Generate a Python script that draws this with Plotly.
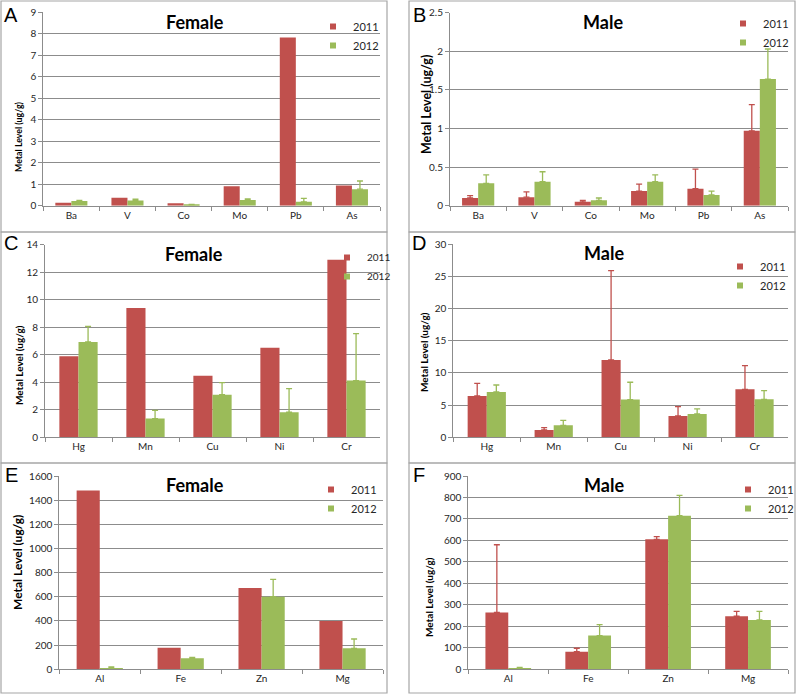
import plotly.graph_objects as go

W, H = 800, 697
RED = "#C0504D"
GREEN = "#9BBB59"
GRID = "#8C8C8C"
TXT = "#262626"
FONT = "Lato"

years = ["2011", "2012"]

# ---- Panel A (Female) ----
cats_A = ["Ba", "V", "Co", "Mo", "Pb", "As"]
A_2011 = [0.14, 0.37, 0.11, 0.90, 7.83, 0.94]
A_2012 = [0.22, 0.24, 0.05, 0.27, 0.18, 0.77]
A_2012_err = [0.03, 0.06, 0.01, 0.05, 0.16, 0.38]

# ---- Panel B (Male) ----
cats_B = ["Ba", "V", "Co", "Mo", "Pb", "As"]
B_2011 = [0.10, 0.11, 0.05, 0.19, 0.22, 0.97]
B_2011_err = [0.03, 0.07, 0.02, 0.09, 0.255, 0.34]
B_2012 = [0.29, 0.31, 0.07, 0.31, 0.14, 1.64]
B_2012_err = [0.11, 0.13, 0.03, 0.09, 0.05, 0.39]

# ---- Panel C (Female) ----
cats_C = ["Hg", "Mn", "Cu", "Ni", "Cr"]
C_2011 = [5.9, 9.4, 4.48, 6.51, 12.9]
C_2012 = [6.93, 1.36, 3.1, 1.82, 4.12]
C_2012_err = [1.13, 0.6, 0.87, 1.72, 3.41]

# ---- Panel D (Male) ----
cats_D = ["Hg", "Mn", "Cu", "Ni", "Cr"]
D_2011 = [6.41, 1.14, 12.0, 3.31, 7.45]
D_2011_err = [1.97, 0.36, 13.87, 1.45, 3.67]
D_2012 = [7.03, 1.86, 5.85, 3.62, 5.9]
D_2012_err = [1.09, 0.78, 2.69, 0.78, 1.34]

# ---- Panel E (Female) ----
cats_E = ["Al", "Fe", "Zn", "Mg"]
E_2011 = [1479, 179, 673, 400]
E_2012 = [8, 91, 601, 174]
E_2012_err = [11, 8, 144, 77]

# ---- Panel F (Male) ----
cats_F = ["Al", "Fe", "Zn", "Mg"]
F_2011 = [265, 82, 605, 247]
F_2011_err = [315, 16, 13, 23]
F_2012 = [5, 157, 715, 230]
F_2012_err = [4, 51, 95, 40]


def px(x):
    return x / W


def py(y):
    return 1 - y / H


panels = [
    dict(letter="A", title="Female", cats=cats_A, v11=A_2011, e11=None, v12=A_2012, e12=A_2012_err,
         rng=[0, 9], dt=1, box=(43.3, 380, 12.3, 205.7), tpos=(195, 22), lpos=(11, 15),
         ypos=(19, 137), yfs=8.8, leg=(353, 24), lfs=11, border=(1, 387, 1, 232)),
    dict(letter="B", title="Male", cats=cats_B, v11=B_2011, e11=B_2011_err, v12=B_2012, e12=B_2012_err,
         rng=[0, 2.5], dt=0.5, box=(450, 788, 12.7, 205.7), tpos=(603, 22), lpos=(419, 15),
         ypos=(426, 105), yfs=12.5, leg=(763, 21), lfs=11, border=(409, 795, 1, 232)),
    dict(letter="C", title="Female", cats=cats_C, v11=C_2011, e11=None, v12=C_2012, e12=C_2012_err,
         rng=[0, 14], dt=2, box=(45, 380, 244.7, 437.3), tpos=(194, 254), lpos=(11, 243),
         ypos=(19, 365), yfs=10, leg=(367, 255), lfs=10, border=(1, 387, 232, 463)),
    dict(letter="D", title="Male", cats=cats_D, v11=D_2011, e11=D_2011_err, v12=D_2012, e12=D_2012_err,
         rng=[0, 30], dt=5, box=(453.3, 788, 244, 437.3), tpos=(604, 253), lpos=(419, 243),
         ypos=(424, 352), yfs=10, leg=(760, 264), lfs=11, border=(409, 795, 232, 463)),
    dict(letter="E", title="Female", cats=cats_E, v11=E_2011, e11=None, v12=E_2012, e12=E_2012_err,
         rng=[0, 1600], dt=200, box=(59.3, 383, 476, 669.3), tpos=(195, 485), lpos=(11, 475),
         ypos=(17, 563), yfs=12, leg=(351, 487), lfs=11, border=(1, 387, 463, 693)),
    dict(letter="F", title="Male", cats=cats_F, v11=F_2011, e11=F_2011_err, v12=F_2012, e12=F_2012_err,
         rng=[0, 900], dt=100, box=(468.3, 788, 476, 669.3), tpos=(604, 485), lpos=(419, 475),
         ypos=(429, 597), yfs=10, leg=(768, 487), lfs=11, border=(409, 795, 463, 693)),
]

fig = go.Figure()
annotations = []
shapes = []
layout = {}

for i, p in enumerate(panels, start=1):
    xa = "x" if i == 1 else f"x{i}"
    ya = "y" if i == 1 else f"y{i}"
    lg = "legend" if i == 1 else f"legend{i}"

    for yr, vals, err, col in [(years[0], p["v11"], p["e11"], RED), (years[1], p["v12"], p["e12"], GREEN)]:
        ey = dict(visible=False)
        if err is not None:
            ey = dict(type="data", symmetric=False, array=err, arrayminus=[0] * len(err),
                      color=col, thickness=1.3, width=3, visible=True)
        fig.add_trace(go.Bar(x=p["cats"], y=vals, name=yr, marker=dict(color=col, line=dict(width=0)),
                             error_y=ey, xaxis=xa, yaxis=ya, showlegend=False, offsetgroup=yr))
        # legend entry (small square marker like the original)
        fig.add_trace(go.Scatter(x=[None], y=[None], mode="markers", name=yr,
                                 marker=dict(symbol="square", size=6, color=col),
                                 xaxis=xa, yaxis=ya, legend=lg, showlegend=True))

    x0, x1, yt, yb = p["box"]
    layout["xaxis" if i == 1 else f"xaxis{i}"] = dict(
        domain=[px(x0), px(x1)], anchor=ya, type="category", showline=True, linecolor=GRID,
        linewidth=1, ticks="outside", tickson="boundaries", ticklen=4, tickcolor=GRID,
        showgrid=False, tickfont=dict(family=FONT, size=10, color=TXT), fixedrange=True,
        automargin=False)
    layout["yaxis" if i == 1 else f"yaxis{i}"] = dict(
        domain=[py(yb), py(yt)], anchor=xa, range=p["rng"], dtick=p["dt"], tick0=0,
        showline=True, linecolor=GRID, linewidth=1, ticks="outside", ticklen=4, tickcolor=GRID,
        showgrid=True, gridcolor=GRID, gridwidth=1, zeroline=False,
        tickfont=dict(family=FONT, size=10, color=TXT), fixedrange=True, automargin=False)
    lx, ly = p["leg"]
    layout[lg] = dict(x=px(lx - 40), y=py(ly - 12), xanchor="left", yanchor="top",
                      bgcolor="rgba(0,0,0,0)", font=dict(family=FONT, size=p["lfs"], color=TXT),
                      itemwidth=30, tracegroupgap=0)

    tx, ty = p["tpos"]
    annotations.append(dict(text=f"<b>{p['title']}</b>", x=px(tx), y=py(ty), xref="paper", yref="paper",
                            showarrow=False, font=dict(family=FONT, size=18, color="#000"),
                            xanchor="center", yanchor="middle"))
    lxp, lyp = p["lpos"]
    annotations.append(dict(text=p["letter"], x=px(lxp), y=py(lyp), xref="paper", yref="paper",
                            showarrow=False, font=dict(family="Liberation Sans", size=20, color="#000"),
                            xanchor="center", yanchor="middle"))
    yx, yy = p["ypos"]
    annotations.append(dict(text="<b>Metal Level (ug/g)</b>", x=px(yx), y=py(yy), xref="paper",
                            yref="paper", showarrow=False, textangle=-90,
                            font=dict(family=FONT, size=p["yfs"], color="#000"),
                            xanchor="center", yanchor="middle"))
    bx0, bx1, by0, by1 = p["border"]
    shapes.append(dict(type="rect", xref="paper", yref="paper", x0=px(bx0), x1=px(bx1),
                       y0=py(by1), y1=py(by0), line=dict(color="#A6A6A6", width=1.2)))

fig.update_layout(**layout)
fig.update_layout(
    width=W, height=H, margin=dict(l=0, r=0, t=0, b=0, autoexpand=False),
    paper_bgcolor="white", plot_bgcolor="white",
    barmode="group", bargap=0.4286, bargroupgap=0,
    annotations=annotations, shapes=shapes,
)

fig.write_html("out.html", config={"displayModeBar": False},
               post_script="document.body.style.margin='0';")
